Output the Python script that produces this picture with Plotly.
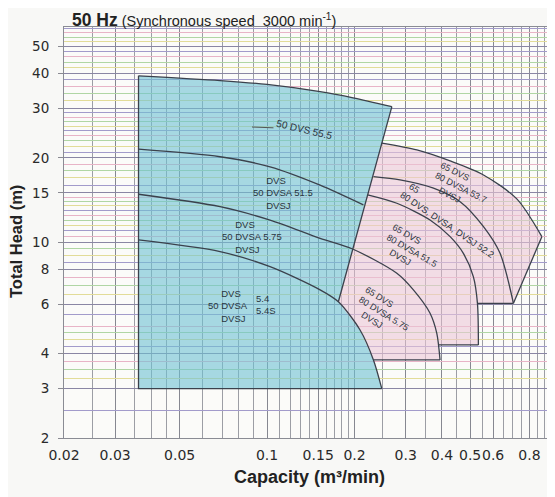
import numpy as np
import plotly.graph_objects as go

# ---------------- data ----------------
# blue field (50 DVS / DVSA / DVSJ)
top_q = [0.0361, 0.0689, 0.1, 0.1523, 0.1977, 0.2689]
top_h = [39.3, 37.8, 36.6, 34.5, 32.8, 30.5]
edge_q = [0.2689, 0.176]
edge_h = [30.5, 6.13]
base_h = 3.0

c515_q = [0.0361, 0.0689, 0.1024, 0.1523, 0.2146]
c515_h = [21.5, 20.2, 18.6, 16.0, 13.6]

c575_q = [0.0361, 0.0689, 0.1024, 0.1523, 0.197, 0.2798, 0.319, 0.364, 0.384, 0.394]
c575_h = [14.84, 13.4, 12.0, 10.33, 9.46, 7.75, 6.76, 5.58, 4.73, 3.80]

c54_q = [0.0361, 0.0689, 0.1024, 0.1523, 0.176, 0.209, 0.2324, 0.2483]
c54_h = [10.19, 9.26, 8.18, 6.76, 6.13, 4.86, 3.80, 3.0]

# pink field (65 DVS / 80 DVSA / DVSJ)
a537_q = [0.2483, 0.328, 0.4268, 0.556, 0.724, 0.883]
a537_h = [22.6, 21.36, 19.51, 17.39, 14.28, 10.47]

b522_q = [0.2324, 0.287, 0.374, 0.462, 0.556, 0.634, 0.705]
b522_h = [17.15, 16.7, 15.6, 13.96, 11.37, 9.13, 6.05]

c515p_q = [0.2219, 0.2798, 0.364, 0.4268, 0.474, 0.513, 0.53, 0.534]
c515p_h = [14.76, 13.78, 12.01, 10.47, 9.13, 7.54, 6.05, 4.30]

outer_q = [0.883, 0.705]
outer_h = [10.47, 6.05]

shelf_h = [3.80, 4.30, 6.05]
shelf_q0 = [0.2324, 0.388, 0.53]
shelf_q1 = [0.394, 0.534, 0.705]

# axes
x_tick_vals = [0.02, 0.03, 0.05, 0.1, 0.15, 0.2, 0.3, 0.4, 0.5, 0.6, 0.8]
x_tick_text = ["0.02", "0.03", "0.05", "0.1", "0.15", "0.2", "0.3", "0.4", "0.5", "0.6", "0.8"]
x_minor_vals = [0.025, 0.035, 0.04, 0.045, 0.06, 0.07, 0.08, 0.09,
                0.11, 0.12, 0.13, 0.14, 0.16, 0.17, 0.18, 0.19,
                0.25, 0.35, 0.45, 0.55, 0.65, 0.7, 0.75, 0.85, 0.9, 0.95]
y_tick_vals = [2, 3, 4, 6, 8, 10, 15, 20, 30, 40, 50]
y_tick_text = ["2", "3", "4", "6", "8", "10", "15", "20", "30", "40", "50"]
y_minor_vals = [2.5, 3.25, 3.5, 3.75, 4.25, 4.5, 4.75, 5, 5.5, 6.5, 7, 7.5,
                8.5, 9, 9.5, 10.5, 11, 11.5, 12, 12.5, 13, 13.5, 14, 14.5,
                16, 17, 18, 19, 21, 22, 23, 24, 25, 26, 27, 28, 29,
                32, 34, 36, 38, 42, 44, 46, 48, 52, 54, 56, 58]

# ---------------- figure ----------------
# the page body adds an 8 px margin, so the figure is 8 px smaller and
# every margin 8 px tighter to land where the reference is
PAGE_OFF = 8
W_FIG, H_FIG = 555 - PAGE_OFF, 497 - PAGE_OFF
ML, MR, MT = 64 - PAGE_OFF, 0, 27 - PAGE_OFF
MB = H_FIG - (438 - PAGE_OFF)
PW = W_FIG - ML - MR
PH = H_FIG - MT - MB
X_RANGE = [np.log10(0.02), np.log10(0.98)]
Y_RANGE = [np.log10(2), np.log10(58.7)]


def paper(px, py):
    """reference-pixel position -> paper coordinates"""
    return (px - PAGE_OFF - ML) / PW, (MT + PH + PAGE_OFF - py) / PH


fig = go.Figure()

# fills
blue_q = [top_q[0]] + top_q + c54_q[4:]
blue_h = [base_h] + top_h + c54_h[4:]
fig.add_trace(go.Scatter(x=blue_q, y=blue_h, mode="lines", fill="toself",
                         fillcolor="rgba(110,194,210,0.6)", line=dict(width=0),
                         hoverinfo="skip", showlegend=False))

pink_q = (a537_q + [outer_q[1], shelf_q0[2], c515p_q[-1], shelf_q0[1],
                    c575_q[-1], shelf_q0[0]] + c54_q[4:6][::-1] + [a537_q[0]])
pink_h = (a537_h + [outer_h[1], shelf_h[2], c515p_h[-1], shelf_h[1],
                    c575_h[-1], shelf_h[0]] + c54_h[4:6][::-1] + [a537_h[0]])
fig.add_trace(go.Scatter(x=pink_q, y=pink_h, mode="lines", fill="toself",
                         fillcolor="rgba(236,198,214,0.58)", line=dict(width=0),
                         hoverinfo="skip", showlegend=False))

LINE = dict(color="#3b414c", width=1.3)


def add_line(q, h, shape="spline"):
    fig.add_trace(go.Scatter(x=q, y=h, mode="lines",
                             line=dict(shape=shape, smoothing=0.8, **LINE),
                             hoverinfo="skip", showlegend=False))


add_line([c54_q[-1], top_q[0], top_q[0]], [base_h, base_h, top_h[0]], "linear")
add_line(top_q, top_h)
add_line(edge_q, edge_h, "linear")
add_line(c515_q, c515_h)
add_line(c575_q, c575_h)
add_line(c54_q, c54_h)
add_line(a537_q, a537_h)
add_line(b522_q, b522_h)
add_line(c515p_q, c515p_h)
add_line(outer_q, outer_h, "linear")
for h, q0, q1 in zip(shelf_h, shelf_q0, shelf_q1):
    add_line([q0, q1], [h, h], "linear")

# coloured horizontal rulings (overlay axes, grid only)
rule_colors = ["#a29bcb", "#e2dc98", "#b0d6a4", "#e8b4c7"]
extra_axes = {}
for i, col in enumerate(rule_colors):
    vals = y_minor_vals[i::4]
    extra_axes[f"yaxis{i + 2}"] = dict(
        type="log", range=Y_RANGE, overlaying="y", anchor="x", side="left",
        tickmode="array", tickvals=vals, showticklabels=False, ticks="",
        showgrid=True, gridcolor=col, gridwidth=1, showline=False,
        zeroline=False, automargin=False)
    fig.add_trace(go.Scatter(x=[None], y=[None], yaxis=f"y{i + 2}",
                             mode="lines", hoverinfo="skip", showlegend=False))

# ---------------- annotations ----------------
ann = []
TXT = "#2b3540"
NB = "\u00a0"


def label(text, px, py, size=9.5, xanchor="left", angle=0, align="left"):
    x, y = paper(px, py)
    ann.append(dict(text=text, x=x, y=y, xref="paper", yref="paper",
                    xanchor=xanchor, yanchor="middle", showarrow=False,
                    textangle=angle, align=align,
                    font=dict(family="Liberation Sans", size=size, color=TXT)))


# blue labels
label(f"{NB*5}DVS<br>50 DVSA 51.5<br>{NB*5}DVSJ", 251, 193.3)
label(f"{NB*5}DVS<br>50 DVSA 5.75<br>{NB*5}DVSJ", 220, 236.7)
label(f"{NB*5}DVS<br>50 DVSA<br>{NB*5}DVSJ", 206, 305.7)
label("5.4<br>5.4S", 254, 304.7)

# pink labels (rotated, centred on the middle line)
label(f"65 DVS<br>80 DVSA 53.7<br>{NB*4}DVSJ", 461, 187, size=9, angle=27, xanchor="center")
label(f"{NB}65<br>80 DVS, DVSA, DVSJ 52.2", 450.5, 220, size=9.2, angle=34, xanchor="center")
label(f"65 DVS<br>80 DVSA 51.5<br>{NB*4}DVSJ", 412, 250, size=9, angle=30, xanchor="center")
label(f"65 DVS<br>80 DVSA 5.75<br>{NB*4}DVSJ", 384, 313, size=9, angle=32, xanchor="center")

# 50 DVS 55.5 with short leader
tx, ty = paper(252, 127)
ann.append(dict(text="50 DVS 55.5", x=tx, y=ty, xref="paper", yref="paper",
                ax=52, ay=2, showarrow=True,
                arrowhead=0, arrowwidth=1, arrowcolor="#555",
                textangle=13, font=dict(family="Liberation Sans", size=10, color=TXT)))

# title (top edge of the figure)
tx, ty = paper(70, PAGE_OFF)
ann.append(dict(text="<span style='font-size:17.5px'><b>50 Hz</b></span> (Synchronous speed\u00a0\u00a03000 min<sup>-1</sup>)",
                x=tx, y=ty, xref="paper", yref="paper", xanchor="left", yanchor="top",
                showarrow=False, font=dict(family="Liberation Sans", size=14.5, color="#222")))
# axis titles
tx, ty = paper(16, 242)
ann.append(dict(text="<b>Total Head (m)</b>", x=tx, y=ty, xref="paper", yref="paper",
                xanchor="center", yanchor="middle", textangle=-90, showarrow=False,
                font=dict(family="Liberation Sans", size=16.5, color="#222")))
tx, ty = paper(309, 477)
ann.append(dict(text="<b>Capacity (m³/min)</b>", x=tx, y=ty, xref="paper", yref="paper",
                xanchor="center", yanchor="middle", showarrow=False,
                font=dict(family="Liberation Sans", size=18, color="#222")))

fig.update_layout(
    width=W_FIG, height=H_FIG,
    margin=dict(l=ML, r=MR, t=MT, b=MB, pad=0),
    paper_bgcolor="#f8f8f6", plot_bgcolor="#fbfbf9",
    showlegend=False,
    xaxis=dict(type="log", range=X_RANGE, tickmode="array", tickvals=x_tick_vals,
               ticktext=x_tick_text, ticks="", tickangle=0, showgrid=True,
               gridcolor="#868891", gridwidth=1, showline=True, mirror=True,
               linecolor="#8a8c94", zeroline=False, automargin=False,
               ticklabelstandoff=4,
               tickfont=dict(family="DejaVu Sans", size=14, color="#2a2a2a"),
               minor=dict(tickmode="array", tickvals=x_minor_vals, showgrid=True,
                          gridcolor="#9c9ea5", gridwidth=1, ticks="")),
    yaxis=dict(type="log", range=Y_RANGE, tickmode="array", tickvals=y_tick_vals,
               ticktext=y_tick_text, ticks="outside", ticklen=5, tickcolor="#8a8a92",
               showgrid=True, gridcolor="#8a86a4", gridwidth=1, showline=True,
               linecolor="#8a8c94", zeroline=False, automargin=False,
               ticklabelstandoff=6,
               tickfont=dict(family="DejaVu Sans", size=13.5, color="#2a2a2a")),
    annotations=ann,
    **extra_axes,
)

fig.write_html("out.html")
